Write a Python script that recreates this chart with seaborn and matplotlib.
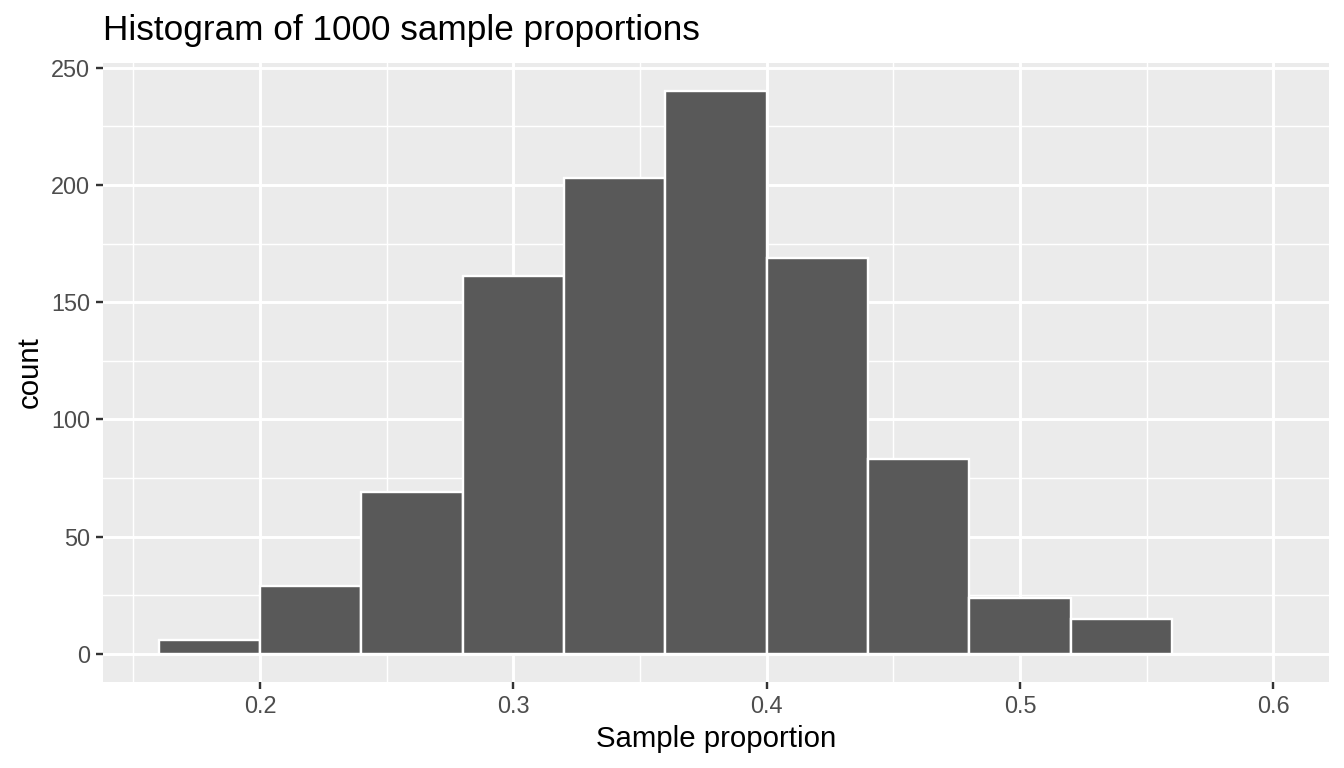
import numpy as np
import matplotlib
matplotlib.use("Agg")
import matplotlib.pyplot as plt
import seaborn as sns
from matplotlib.ticker import MultipleLocator

# bin edges and counts (binwidth 0.04)
bin_edges = [0.16, 0.20, 0.24, 0.28, 0.32, 0.36, 0.40, 0.44, 0.48, 0.52, 0.56, 0.60]
bin_counts = [6, 29, 69, 161, 203, 240, 169, 83, 24, 15, 0]
x_ticks = [0.2, 0.3, 0.4, 0.5, 0.6]
y_ticks = [0, 50, 100, 150, 200, 250]

bin_centers = [(a + b) / 2 for a, b in zip(bin_edges[:-1], bin_edges[1:])]

sns.set_style("darkgrid", {"axes.facecolor": "#EBEBEB", "grid.color": "white"})
plt.rcParams["font.family"] = ["Liberation Sans", "DejaVu Sans"]

fig = plt.figure(figsize=(7, 4), dpi=192)
ax = fig.add_axes([103 / 1344, 1 - 682 / 768, (1329 - 103) / 1344, (682 - 63) / 768])

sns.histplot(
    x=bin_centers,
    weights=bin_counts,
    bins=bin_edges,
    color="#595959",
    edgecolor="white",
    linewidth=0.9,
    alpha=1,
    ax=ax,
)

ax.set_xlim(0.138, 0.622)
ax.set_ylim(-12, 252)
ax.set_xticks(x_ticks)
ax.set_xticklabels([f"{t:.1f}" for t in x_ticks])
ax.set_yticks(y_ticks)
ax.xaxis.set_minor_locator(MultipleLocator(0.05))
ax.yaxis.set_minor_locator(MultipleLocator(25))
ax.grid(which="major", color="white", linewidth=1.1)
ax.grid(which="minor", color="white", linewidth=0.55)
ax.set_axisbelow(True)
for s in ax.spines.values():
    s.set_visible(False)

ax.tick_params(which="major", length=2.75, width=0.9, color="#333333",
               labelcolor="#4D4D4D", labelsize=8.8, pad=2.2, bottom=True, left=True)
ax.tick_params(which="minor", length=0)

ax.set_xlabel("Sample proportion", fontsize=11, color="black", labelpad=2.5)
ax.set_ylabel("count", fontsize=11, color="black", labelpad=2.5)
ax.set_title("Histogram of 1000 sample proportions", fontsize=13.2, loc="left",
             color="black", pad=8.5)

fig.savefig("out.png", dpi=192)
